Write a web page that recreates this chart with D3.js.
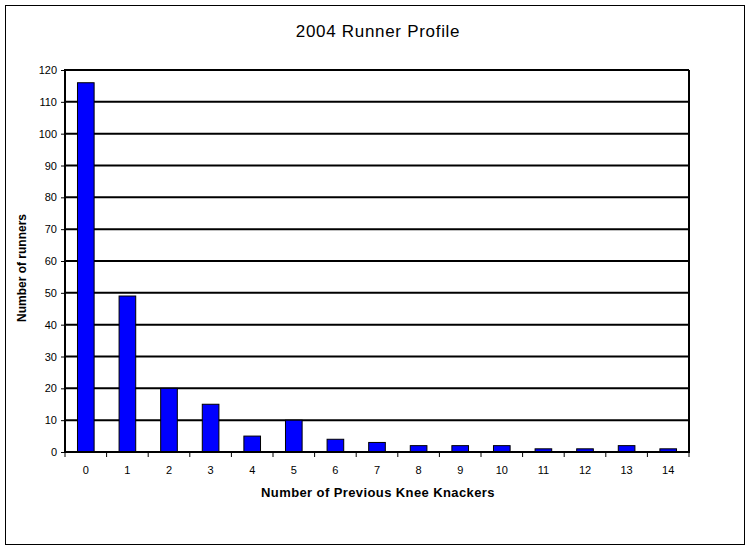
<!DOCTYPE html>
<html lang="en">
<head>
<meta charset="utf-8">
<title>2004 Runner Profile</title>
<script src="https://d3js.org/d3.v7.min.js"></script>
<style>
  body { margin: 0; background: #fff; }
  svg { font-family: "Liberation Sans", Arial, sans-serif; }
</style>
</head>
<body>
<div id="chart1"></div>
<script>
    // data
    const kneeKnackers = ["0","1","2","3","4","5","6","7","8","9","10","11","12","13","14"]
    const runners = [116, 49, 20, 15, 5, 10, 4, 3, 2, 2, 2, 1, 1, 2, 1]
    const yTicks = [0,10,20,30,40,50,60,70,80,90,100,110,120]

    const W = 749, H = 549
    const margin = {top: 70, right: 60, bottom: 97, left: 65}
    const width = W - margin.left - margin.right,
          height = H - margin.top - margin.bottom

    const root = d3.select("#chart1").append("svg")
        .attr("width", W)
        .attr("height", H)

    // outer frame
    root.append("rect")
        .attr("x", 5.5).attr("y", 5.5)
        .attr("width", 739).attr("height", 539)
        .attr("fill", "#fff").attr("stroke", "#000").attr("stroke-width", 1)

    const svg = root.append("g")
        .attr("transform", "translate(" + margin.left + "," + margin.top + ")")

    const x = d3.scaleBand()
        .domain(kneeKnackers)
        .range([0, width])
        .paddingInner(0.6)
        .paddingOuter(0.3)

    const y = d3.scaleLinear()
        .domain([0, 120])
        .range([height, 0])

    // gridlines
    svg.selectAll(".grid")
        .data(yTicks.filter(d => d > 0))
        .enter().append("line")
        .attr("x1", 0).attr("x2", width)
        .attr("y1", d => y(d)).attr("y2", d => y(d))
        .attr("stroke", "#000").attr("stroke-width", 2)

    // right edge of plot area
    svg.append("line")
        .attr("x1", width).attr("x2", width)
        .attr("y1", 0).attr("y2", height)
        .attr("stroke", "#000").attr("stroke-width", 2)

    // bars
    svg.selectAll(".bar")
        .data(runners)
        .enter().append("rect")
        .attr("x", (d, i) => x(kneeKnackers[i]))
        .attr("y", d => y(d))
        .attr("width", x.bandwidth())
        .attr("height", d => height - y(d))
        .attr("fill", "#0000ff")
        .attr("stroke", "#000")
        .attr("stroke-width", 1)

    // y axis
    const yAxis = svg.append("g")
        .call(d3.axisLeft(y).tickValues(yTicks).tickSize(4).tickPadding(4))
    yAxis.select(".domain").attr("stroke-width", 2).attr("d", "M0," + (height + 1) + "V-1")
    yAxis.selectAll("text").attr("font-size", 11).attr("fill", "#000")

    // x axis, ticks sit on category boundaries
    const xb = d3.scaleLinear().domain([0, kneeKnackers.length]).range([0, width])
    const xAxis = svg.append("g").attr("transform", "translate(0," + height + ")")
    xAxis.append("line")
        .attr("x1", -1).attr("x2", width + 1)
        .attr("stroke", "#000").attr("stroke-width", 2)
    xAxis.selectAll(".tk")
        .data(d3.range(kneeKnackers.length + 1))
        .enter().append("line")
        .attr("x1", d => xb(d)).attr("x2", d => xb(d))
        .attr("y1", 0).attr("y2", 5)
        .attr("stroke", "#000")
    xAxis.selectAll(".lbl")
        .data(kneeKnackers)
        .enter().append("text")
        .attr("x", d => x(d) + x.bandwidth() / 2)
        .attr("y", 22)
        .attr("text-anchor", "middle")
        .attr("font-size", 11)
        .text(d => d)

    // titles
    root.append("text")
        .attr("x", 378).attr("y", 37)
        .attr("text-anchor", "middle")
        .attr("font-size", 17)
        .attr("letter-spacing", 0.7)
        .text("2004 Runner Profile")

    root.append("text")
        .attr("x", 378).attr("y", 497)
        .attr("text-anchor", "middle")
        .attr("font-size", 13).attr("font-weight", "bold")
        .attr("letter-spacing", 0.4)
        .text("Number of Previous Knee Knackers")

    root.append("text")
        .attr("transform", "translate(26," + (margin.top + height / 2 + 7) + ") rotate(-90)")
        .attr("text-anchor", "middle")
        .attr("font-size", 12).attr("font-weight", "bold")
        .text("Number of runners")
</script>
</body>
</html>
